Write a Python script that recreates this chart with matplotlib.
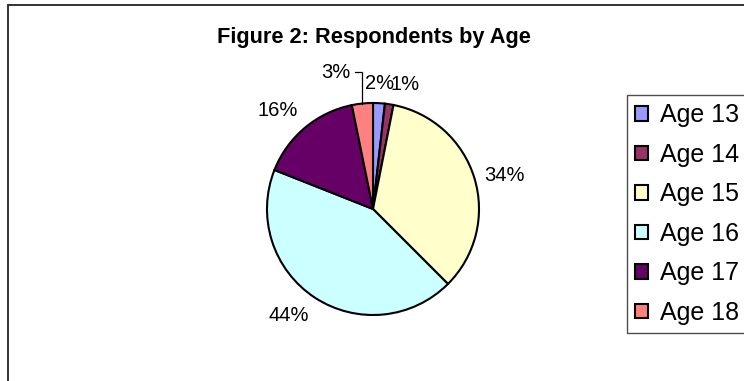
import matplotlib
matplotlib.use('Agg')
import matplotlib.pyplot as plt
import numpy as np
from matplotlib.patches import Rectangle

plt.rcParams['font.family'] = ['Liberation Sans', 'DejaVu Sans']

ages = ['Age 13', 'Age 14', 'Age 15', 'Age 16', 'Age 17', 'Age 18']
shares = [1.8, 1.3, 34.4, 43.5, 15.8, 3.2]
colors = ['#9999FF', '#993366', '#FFFFCC', '#CCFFFF', '#660066', '#FF8080']
title = 'Figure 2: Respondents by Age'

W, H = 744, 381
fig = plt.figure(figsize=(W / 100, H / 100), dpi=100)

# figure border (open to the right and bottom)
fig.patches.append(Rectangle((8 / W, -0.1), 1.2, 1 - 5 / H + 0.1,
                             transform=fig.transFigure, fill=False,
                             edgecolor='#222222', linewidth=1.3))

cx, cy, R = 373, 209, 106
ax = fig.add_axes([(cx - R) / W, (H - cy - R) / H, 2 * R / W, 2 * R / H])
wedges, _ = ax.pie(shares, colors=colors, startangle=90, counterclock=False,
                   wedgeprops=dict(edgecolor='black', linewidth=1.5))
ax.set_xlim(-1, 1)
ax.set_ylim(-1, 1)
ax.set_aspect('equal')
ax.axis('off')

total = sum(shares)
d = 1.1
for i, (w, s) in enumerate(zip(wedges, shares)):
    theta = np.deg2rad((w.theta1 + w.theta2) / 2)
    x, y = np.cos(theta), np.sin(theta)
    lab = f'{round(s / total * 100)}%'
    if i == len(shares) - 1:
        # leader line label
        top = 1.29
        ax.plot([x, x, x - 0.07], [y, top, top], color='black', lw=0.9,
                clip_on=False, solid_joinstyle='miter')
        ax.text(x - 0.11, top, lab, ha='right', va='center', fontsize=14.5,
                clip_on=False)
        continue
    ha = 'center' if abs(x) < 0.1 else ('left' if x > 0 else 'right')
    va = 'center' if abs(y) < 0.5 else ('bottom' if y > 0 else 'top')
    ax.text(d * x, d * y, lab, ha=ha, va=va, fontsize=14.5, clip_on=False)

fig.text(374 / W, 1 - 37 / H, title, ha='center', va='center',
         fontsize=15.7, fontweight='bold')

leg = fig.legend(wedges, ages, loc='upper left',
                 bbox_to_anchor=(627 / W, 1 - 95 / H), fontsize=18,
                 frameon=True, fancybox=False, borderaxespad=0,
                 handlelength=0.52, handleheight=0.52, handletextpad=0.45,
                 labelspacing=0.62, borderpad=0.33)
leg.get_frame().set_edgecolor('#222222')
leg.get_frame().set_linewidth(1.0)

fig.savefig('out.png', dpi=100)
